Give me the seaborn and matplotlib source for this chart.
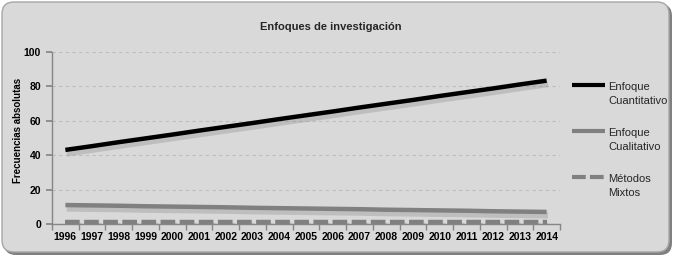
import matplotlib
matplotlib.use("Agg")
import matplotlib.pyplot as plt
import matplotlib.patheffects as pe
from matplotlib.patches import FancyBboxPatch
from matplotlib.lines import Line2D
import seaborn as sns
import pandas as pd

years = [str(y) for y in range(1996, 2015)]
cuantitativo = [43.0, 45.2, 47.5, 49.7, 51.9, 54.2, 56.4, 58.6, 60.9, 63.1,
                65.3, 67.6, 69.8, 72.0, 74.3, 76.5, 78.7, 81.0, 83.2]
cualitativo = [11.0, 10.8, 10.6, 10.3, 10.1, 9.9, 9.7, 9.4, 9.2, 9.0,
               8.8, 8.6, 8.3, 8.1, 7.9, 7.7, 7.4, 7.2, 7.0]
mixtos = [1.0] * 19
series_names = ["Enfoque\nCuantitativo", "Enfoque\nCualitativo", "Métodos\nMixtos"]

sns.set_theme(style="white")
plt.rcParams['font.family'] = ['Liberation Sans', 'DejaVu Sans']

fig = plt.figure(figsize=(6.77, 2.59), dpi=100)
fig.patch.set_facecolor("white")

# outer rounded frame with shadow
bg = fig.add_axes([0, 0, 1, 1], zorder=-10)
bg.set_xlim(0, 677); bg.set_ylim(259, 0); bg.axis("off")
shadow = FancyBboxPatch((4, 4), 668, 251, boxstyle="round,pad=0,rounding_size=12",
                        facecolor="#808080", edgecolor="none")
bg.add_patch(shadow)
frame = FancyBboxPatch((2, 2), 667, 250, boxstyle="round,pad=0,rounding_size=12",
                       facecolor="#d9d9d9", edgecolor="#a6a6a6", linewidth=1)
bg.add_patch(frame)

ax = fig.add_axes([52 / 677, 1 - 224 / 259, (560 - 52) / 677, (224 - 51.7) / 259])
ax.set_facecolor("none")

df = pd.DataFrame({
    "year": years * 3,
    "value": cuantitativo + cualitativo + mixtos,
    "serie": [series_names[0]] * 19 + [series_names[1]] * 19 + [series_names[2]] * 19,
})
xpos = {y: i for i, y in enumerate(years)}
df["x"] = df["year"].map(xpos)

colors = {series_names[0]: "#000000", series_names[1]: "#808080", series_names[2]: "#808080"}
styles = {series_names[0]: "-", series_names[1]: "-", series_names[2]: (0, (3.3, 1.0))}
shadow_fx = [pe.SimpleLineShadow(offset=(1, -2.5), shadow_color="#808080", alpha=0.3, linewidth=4.5),
             pe.Normal()]
for name in series_names:
    sub = df[df["serie"] == name]
    sns.lineplot(data=sub, x="x", y="value", ax=ax, color=colors[name],
                 linewidth=3.2, linestyle=styles[name], legend=False,
                 path_effects=shadow_fx, solid_capstyle="butt", dash_capstyle="butt")

ax.set_xlim(-0.5, 18.5)
ax.set_ylim(0, 100)
ax.set_yticks([0, 20, 40, 60, 80, 100])
ax.set_xticks(range(19))
ax.set_xticklabels(years)
ax.set_xticks([i - 0.5 for i in range(20)], minor=True)
ax.tick_params(axis="x", which="major", length=0, pad=6)
ax.tick_params(axis="x", which="minor", length=4, color="#868686", direction="out", bottom=True)
ax.tick_params(axis="y", length=4, color="#868686", direction="out", left=True, pad=4)
for lab in ax.get_xticklabels() + ax.get_yticklabels():
    lab.set_fontweight("bold")
    lab.set_fontsize(7.5)
    lab.set_color("black")
ax.grid(axis="y", color="#bdbdbd", linestyle=(0, (3, 3)), linewidth=0.8)
for side in ["top", "right"]:
    ax.spines[side].set_visible(False)
for side in ["left", "bottom"]:
    ax.spines[side].set_color("#868686")
    ax.spines[side].set_linewidth(1)
ax.set_xlabel("")
ax.set_ylabel("Frecuencias absolutas", fontsize=7, fontweight="bold", color="black")
ax.yaxis.set_label_coords(-29 / 508, 0.545)

fig.text(331 / 677, 1 - 27 / 259, "Enfoques de investigación", ha="center", va="center",
         fontsize=8, fontweight="bold")

# legend: handle aligned with first text line
leg_y = [85, 131, 177]
for name, yy in zip(series_names, leg_y):
    bg.add_line(Line2D([572, 605], [yy, yy], color=colors[name], linestyle=styles[name],
                       linewidth=3, solid_capstyle="butt", dash_capstyle="butt"))
    bg.text(608, yy - 3, name, ha="left", va="top", fontsize=8, linespacing=1.55)

fig.savefig("out.png", dpi=100)
